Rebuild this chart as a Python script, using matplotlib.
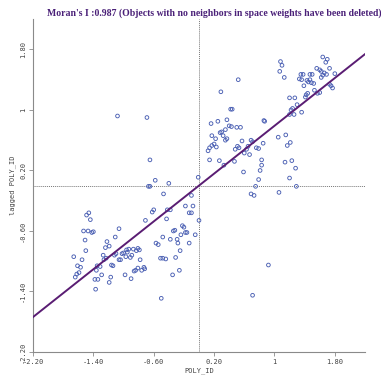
import matplotlib
matplotlib.use("Agg")
import matplotlib.pyplot as plt

# values (standardized POLY_ID vs its spatial lag)
poly_x = [-1.49, -1.46, -1.44, -1.53, -1.47, -1.42, -1.40, -1.51, -1.50, -1.66,
          -1.55, -1.61, -1.57, -1.59, -1.62, -1.64, -1.38, -1.34, -1.37, -1.06,
          -1.11, -1.22, -1.19, -1.24, -1.27, -1.23, -1.26, -1.35, -1.31, -1.36,
          -1.29, -1.17, -1.19, -1.16, -1.14, -1.12, -1.10, -1.04, -1.06, -1.02,
          -1.00, -0.96, -0.93, -0.95, -0.87, -0.81, -0.79, -0.83, -0.97, -0.91,
          -0.89, -0.78, -0.81, -0.84, -0.86, -0.76, -0.73, -0.72, -0.98, -0.90,
          -0.71, -0.62, -0.60, -0.42, -0.38, -0.43, -0.57, -0.54, -0.48, -0.38,
          -0.34, -0.32, -0.22, -0.20, -0.18, -0.16, -0.24, -0.29, -0.28, -0.25,
          -0.31, -0.51, -0.48, -0.44, -0.26, -0.35, -0.13, -0.05, 0.00, -0.18,
          -0.08, -0.13, -0.10, -0.50, -0.67, -0.65, -0.58, -0.40, -0.47, -1.08,
          -0.69, -0.65,
          0.29, 0.42, 0.44, 0.16, 0.25, 0.37, 0.40, 0.43, 0.50, 0.55,
          0.35, 0.30, 0.28, 0.32, 0.17, 0.22, 0.37, 0.35, 0.20, 0.17,
          0.23, 0.14, 0.12, 0.57, 0.87, 0.69, 0.71, 0.85, 0.51, 0.53,
          0.48, 0.63, 0.65, 0.60, 0.67, 0.76, 0.79, 0.47, 0.27, 0.14,
          0.33, 0.59, 0.83, 0.83, 0.81, 0.79, 0.75, 0.69, 0.73, 1.06,
          -0.01, -0.10, 1.14, 1.05, 1.15, 1.21, 1.17, 1.20, 1.27, 1.30,
          1.24, 1.22, 1.20, 1.26, 1.36, 1.42, 1.44, 1.08, 1.10, 1.07,
          1.13, 0.52, 1.64, 1.70, 1.68, 1.73, 1.80, 1.56, 1.60, 1.62,
          1.66, 1.69, 1.64, 1.62, 1.35, 1.38, 1.47, 1.50, 1.33, 1.36,
          1.43, 1.47, 1.49, 1.45, 1.39, 1.52, 1.73, 1.75, 1.77, 1.53,
          1.57, 1.60, 1.41, 0.86, 1.23, 1.28, 1.20, 1.29, 0.92, 0.71]

lagged_y = [-0.39, -0.36, -0.45, -0.60, -0.60, -0.62, -0.61, -0.72, -0.86, -0.94,
            -0.98, -1.06, -1.08, -1.15, -1.17, -1.21, -1.24, -1.24, -1.37, -0.57,
            -0.68, -0.74, -0.80, -0.82, -0.92, -0.96, -0.98, -1.06, -1.07, -1.12,
            -1.18, -1.21, -1.28, -1.05, -1.06, -0.92, -0.90, -0.98, -0.98, -0.90,
            -0.89, -0.85, -0.84, -0.88, -0.84, -0.83, -0.85, -0.86, -0.94, -0.95,
            -0.92, -0.98, -1.09, -1.12, -1.13, -1.12, -1.08, -1.10, -1.18, -1.23,
            -0.46, -0.35, -0.32, -0.32, -0.32, -0.44, -0.76, -0.78, -0.68, -0.71,
            -0.60, -0.59, -0.53, -0.55, -0.62, -0.62, -0.65, -0.71, -0.76, -0.86,
            -0.95, -0.96, -0.96, -0.97, -1.12, -1.18, -0.76, -0.65, -0.46, -0.27,
            -0.27, -0.36, -0.36, -1.49, -0.01, -0.01, 0.07, 0.03, -0.11, 0.92,
            0.90, 0.34,
            1.24, 1.01, 1.01, 0.82, 0.85, 0.87, 0.79, 0.78, 0.77, 0.77,
            0.74, 0.71, 0.70, 0.66, 0.66, 0.62, 0.62, 0.60, 0.55, 0.53,
            0.51, 0.50, 0.46, 0.59, 0.85, 0.60, 0.58, 0.56, 0.52, 0.50,
            0.48, 0.48, 0.52, 0.43, 0.41, 0.50, 0.49, 0.32, 0.33, 0.34,
            0.27, 0.18, 0.34, 0.27, 0.20, 0.08, -0.01, -0.11, -0.13, -0.09,
            0.11, -0.13, 0.31, 0.64, 0.67, 0.57, 0.53, 1.16, 1.16, 1.07,
            1.02, 1.00, 0.94, 0.94, 0.97, 1.20, 1.22, 1.64, 1.59, 1.51,
            1.43, 1.40, 1.70, 1.67, 1.63, 1.55, 1.48, 1.55, 1.53, 1.51,
            1.49, 1.47, 1.46, 1.43, 1.47, 1.47, 1.47, 1.47, 1.41, 1.40,
            1.39, 1.40, 1.36, 1.37, 1.32, 1.35, 1.34, 1.32, 1.29, 1.26,
            1.22, 1.23, 1.17, 0.86, 0.33, 0.23, 0.10, -0.01, -1.05, -1.45]

fit_slope = 0.79
fit_intercept = 0.0
mean_x = 0.0
mean_y = 0.0
ticks = [-2.2, -1.4, -0.6, 0.2, 1.0, 1.8]
tick_labels = ["-2.20", "-1.40", "-0.60", "0.20", "1", "1.80"]
title = "Moran's I :0.987 (Objects with no neighbors in space weights have been deleted)"

fig = plt.figure(figsize=(3.81, 3.76), dpi=100)
ax = fig.add_axes([0.0866, 0.0638, 0.8714, 0.8852])

ax.axvline(mean_x, color="#777777", lw=0.7, ls=(0, (1, 1)), zorder=1)
ax.axhline(mean_y, color="#777777", lw=0.7, ls=(0, (1, 1)), zorder=1)
ax.scatter(poly_x, lagged_y, s=7, facecolors="none", edgecolors="#4a5fb3",
           linewidths=0.65, zorder=2)
ax.axline((0, fit_intercept), slope=fit_slope, color="#5a1d73", lw=1.4, zorder=3)

ax.set_xlim(-2.2, 2.2)
ax.set_ylim(-2.2, 2.2)
ax.set_xticks(ticks)
ax.set_xticklabels(tick_labels)
ax.set_yticks(ticks)
ax.set_yticklabels(tick_labels, rotation=90, va="center")

for s in ["top", "right"]:
    ax.spines[s].set_visible(False)
for s in ["left", "bottom"]:
    ax.spines[s].set_color("#8a8a8a")
    ax.spines[s].set_linewidth(0.8)
ax.tick_params(length=3, width=0.6, color="#8a8a8a", labelsize=5,
               labelcolor="#444444", pad=2)
for lab in ax.get_xticklabels() + ax.get_yticklabels():
    lab.set_family("DejaVu Sans Mono")

ax.set_xlabel("POLY_ID", fontsize=5, family="DejaVu Sans Mono", color="#444444", labelpad=2)
ax.set_ylabel("lagged POLY_ID", fontsize=5, family="DejaVu Sans Mono", color="#444444", labelpad=3)

fig.text(0.562, 0.965, title, ha="center", va="center", fontsize=7,
         fontweight="bold", family="Liberation Serif", color="#4a2078")

fig.savefig("out.png", dpi=100)
